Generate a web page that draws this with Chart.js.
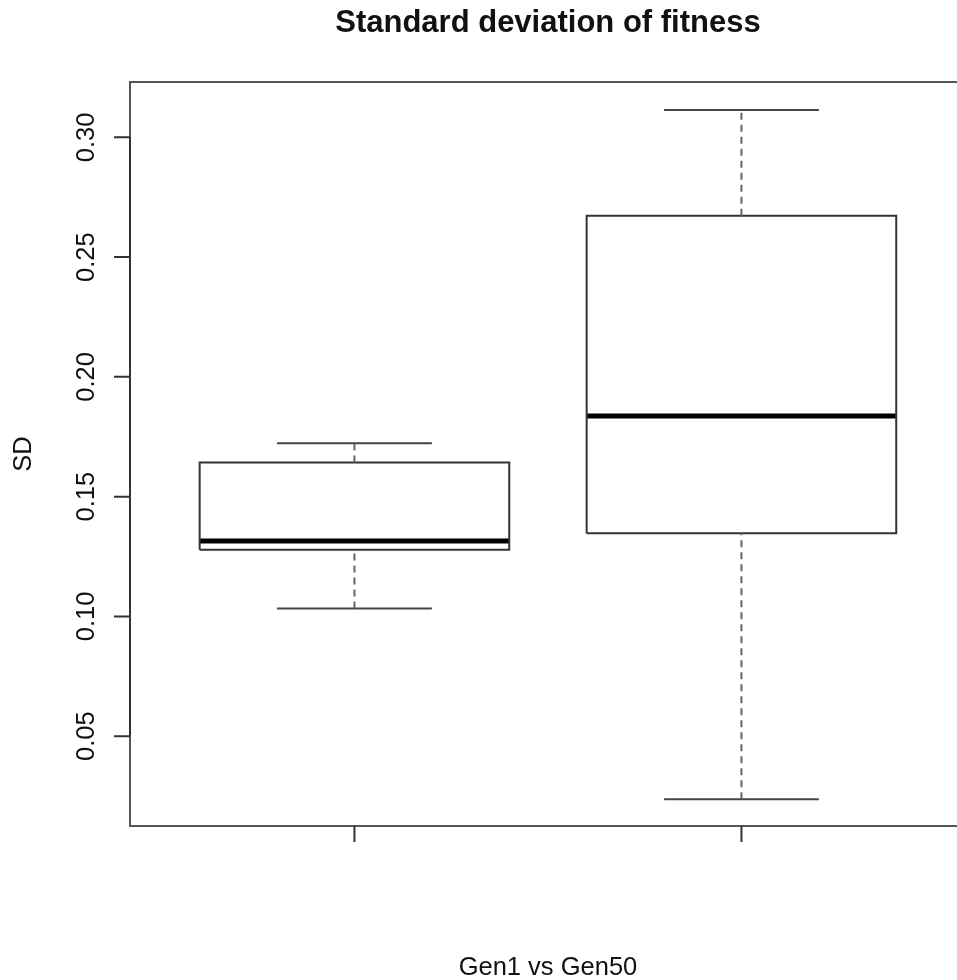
<!DOCTYPE html>
<html>
<head>
<meta charset="utf-8">
<script src="https://cdn.jsdelivr.net/npm/chart.js@4.4.1/dist/chart.umd.min.js"></script>
<style>
  html, body { margin: 0; padding: 0; background: #fff; overflow: hidden; }
  #chart { display: block; }
</style>
</head>
<body>
<canvas id="chart" width="957" height="980"></canvas>
<script>
/* DATA */
const categories = ["Gen1", "Gen50"];
const whiskerLow = [0.1033, 0.0237];
const q1 = [0.1278, 0.1347];
const median = [0.1315, 0.1837];
const q3 = [0.1642, 0.2673];
const whiskerHigh = [0.1723, 0.3114];
const yTicks = [0.05, 0.10, 0.15, 0.20, 0.25, 0.30];

const FONT = '"Liberation Sans", Arial, Helvetica, sans-serif';
const BOX_HALF = 0.4;   // half box width, in x units
const CAP_HALF = 0.2;   // half staple width

/* build line datasets for each box */
const datasets = [];
function seg(points, opts) {
  datasets.push(Object.assign({
    data: points,
    borderColor: "#444",
    borderWidth: 2,
    pointRadius: 0,
    fill: false,
    tension: 0
  }, opts || {}));
}

categories.forEach((c, i) => {
  const x = i + 1;
  // dashed whiskers
  seg([{x, y: q3[i]}, {x, y: whiskerHigh[i]}], {borderDash: [7, 5], borderColor: "#666"});
  seg([{x, y: whiskerLow[i]}, {x, y: q1[i]}], {borderDash: [7, 5], borderColor: "#666"});
  // staples
  seg([{x: x - CAP_HALF, y: whiskerHigh[i]}, {x: x + CAP_HALF, y: whiskerHigh[i]}]);
  seg([{x: x - CAP_HALF, y: whiskerLow[i]}, {x: x + CAP_HALF, y: whiskerLow[i]}]);
  // box
  seg([
    {x: x - BOX_HALF, y: q1[i]}, {x: x + BOX_HALF, y: q1[i]},
    {x: x + BOX_HALF, y: q3[i]}, {x: x - BOX_HALF, y: q3[i]},
    {x: x - BOX_HALF, y: q1[i]}
  ], {borderColor: "#333"});
  // median
  seg([{x: x - BOX_HALF, y: median[i]}, {x: x + BOX_HALF, y: median[i]}],
      {borderColor: "#000", borderWidth: 5, borderCapStyle: "butt"});
});

/* R-STYLE FRAME, AXES AND TEXT */
const rDecor = {
  id: "rDecor",
  afterDraw(chart) {
    const ctx = chart.ctx;
    const a = chart.chartArea;
    const xs = chart.scales.x, ys = chart.scales.y;
    ctx.save();

    // frame (right edge falls outside the picture)
    ctx.strokeStyle = "#555";
    ctx.lineWidth = 2;
    ctx.beginPath();
    ctx.moveTo(a.right + 5, a.top);
    ctx.lineTo(a.left, a.top);
    ctx.lineTo(a.left, a.bottom);
    ctx.lineTo(a.right + 5, a.bottom);
    ctx.stroke();

    // y axis line and ticks
    ctx.strokeStyle = "#333";
    ctx.beginPath();
    ctx.moveTo(a.left, ys.getPixelForValue(yTicks[0]));
    ctx.lineTo(a.left, ys.getPixelForValue(yTicks[yTicks.length - 1]));
    yTicks.forEach(v => {
      const py = ys.getPixelForValue(v);
      ctx.moveTo(a.left, py);
      ctx.lineTo(a.left - 16, py);
    });
    // x ticks
    categories.forEach((c, i) => {
      const px = xs.getPixelForValue(i + 1);
      ctx.moveTo(px, a.bottom);
      ctx.lineTo(px, a.bottom + 16);
    });
    ctx.stroke();

    // y tick labels, rotated
    ctx.fillStyle = "#111";
    ctx.font = "25.5px " + FONT;
    ctx.textAlign = "center";
    ctx.textBaseline = "alphabetic";
    yTicks.forEach(v => {
      const py = ys.getPixelForValue(v);
      ctx.save();
      ctx.translate(94, py);
      ctx.rotate(-Math.PI / 2);
      ctx.fillText(v.toFixed(2), 0, 0);
      ctx.restore();
    });

    // axis titles
    const midX = xs.getPixelForValue(1.5);
    const midY = (a.top + a.bottom) / 2;
    ctx.fillText("Gen1 vs Gen50", midX, 975);
    ctx.save();
    ctx.translate(31, midY);
    ctx.rotate(-Math.PI / 2);
    ctx.fillText("SD", 0, 0);
    ctx.restore();

    // main title
    ctx.font = "bold 31px " + FONT;
    ctx.fillText("Standard deviation of fitness", midX, 32);
    ctx.restore();
  }
};

new Chart(document.getElementById("chart"), {
  type: "line",
  data: { datasets },
  options: {
    responsive: false,
    devicePixelRatio: 1,
    animation: false,
    layout: { padding: { left: 130, top: 82, right: 0, bottom: 154 } },
    plugins: { legend: { display: false }, tooltip: { enabled: false }, title: { display: false } },
    scales: {
      x: { type: "linear", min: 0.42, max: 2.557, display: false },
      y: { type: "linear", min: 0.0125, max: 0.3231, display: false }
    }
  },
  plugins: [rDecor]
});
</script>
</body>
</html>
